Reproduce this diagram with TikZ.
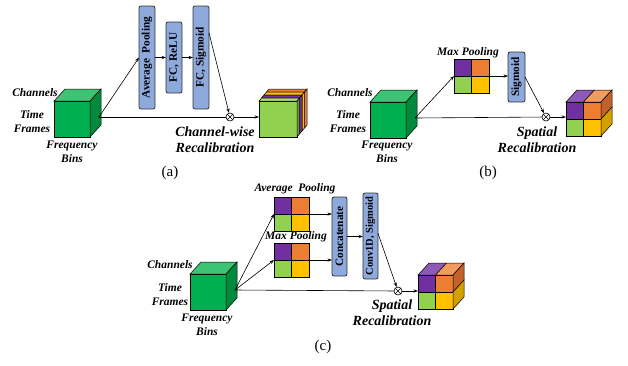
\documentclass[tikz,border=0pt]{standalone}
\usepackage{fontspec}
\usepackage{graphicx}
\setmainfont{Liberation Serif}
\usetikzlibrary{calc,arrows.meta}

\definecolor{gfront}{HTML}{00B050}
\definecolor{gtop}{HTML}{3CC374}
\definecolor{gside}{HTML}{008A3E}
\definecolor{boxblue}{HTML}{8EA9DB}
\definecolor{cpurple}{HTML}{7030A0}
\definecolor{corange}{HTML}{ED7D31}
\definecolor{clime}{HTML}{92D050}
\definecolor{cgold}{HTML}{FFC000}
\definecolor{cpurpletop}{HTML}{8E5AB6}
\definecolor{corangetop}{HTML}{F19C5E}
\definecolor{corangeside}{HTML}{C2622A}
\definecolor{cgoldside}{HTML}{D4A000}

\tikzset{
  edge/.style={line width=0.6pt},
  arr/.style={line width=0.6pt,-{Stealth[length=4.5pt,width=3.2pt]}},
  blk/.style={draw=black!80,fill=boxblue,rounded corners=2pt,line width=0.8pt,
    inner sep=0pt,outer sep=0pt,font=\fontsize{11.3}{12}\selectfont\bfseries},
  face/.style={draw,line width=0.5pt,inner sep=0pt,outer sep=0pt},
  lbl/.style={font=\fontsize{11.5}{14}\selectfont\bfseries\itshape,align=center,inner sep=0pt},
  biglbl/.style={font=\fontsize{14}{16}\selectfont\bfseries\itshape,align=center,inner sep=0pt},
  panelcap/.style={font=\fontsize{15}{16}\selectfont,inner sep=0pt},
  mult/.style={circle,draw,fill=white,minimum size=8pt,inner sep=0pt,line width=0.6pt}
}

% green input feature cube: #1 name, #2 north-west corner of the front face
\newcommand\greencube[2]{%
  \node[face,fill=gfront,minimum width=36pt,minimum height=36pt,anchor=north west] (#1) at (#2) {};
  \draw[face,fill=gtop] (#1.north west) -- ++(11,-12) -- ($(#1.north east)+(11,-12)$) -- (#1.north east) -- cycle;
  \draw[face,fill=gside] (#1.north east) -- ++(11,-12) -- ($(#1.south east)+(11,-12)$) -- (#1.south east) -- cycle;
  \coordinate (#1-out) at ($(#1.east)+(9,-2)$);
}

% 2x2 coloured map: #1 name, #2 north-west corner
\newcommand\quadgrid[2]{%
  \node[face,minimum width=35pt,minimum height=34pt,anchor=north west] (#1) at (#2) {};
  \fill[cpurple] (#1.north west) rectangle (#1.center);
  \fill[corange] (#1.north) rectangle (#1.east);
  \fill[clime] (#1.west) rectangle (#1.south);
  \fill[cgold] (#1.center) rectangle (#1.south east);
  \draw[line width=0.5pt] (#1.north west) rectangle (#1.south east)
    (#1.north) -- (#1.south) (#1.west) -- (#1.east);
}

% 2x2 recalibrated cube: #1 name, #2 north-west corner of the front face
\newcommand\quadcube[2]{%
  \quadgrid{#1}{#2}
  \draw[face,fill=cpurpletop] (#1.north west) -- ++(11,-12) -- ($(#1.north)+(11,-12)$) -- (#1.north) -- cycle;
  \draw[face,fill=corangetop] (#1.north) -- ++(11,-12) -- ($(#1.north east)+(11,-12)$) -- (#1.north east) -- cycle;
  \draw[face,fill=corangeside] (#1.north east) -- ++(11,-12) -- ($(#1.east)+(11,-12)$) -- (#1.east) -- cycle;
  \draw[face,fill=cgoldside] (#1.east) -- ++(11,-12) -- ($(#1.south east)+(11,-12)$) -- (#1.south east) -- cycle;
}

\newcommand\crossmark[1]{%
  \draw[line width=0.6pt] (#1.north west) -- (#1.south east) (#1.north east) -- (#1.south west);
}

\begin{document}
\begin{tikzpicture}[x=1pt,y=-1pt]
\useasboundingbox (0,0) rectangle (628,365);

% ---------------- (a) channel-wise recalibration ----------------
\greencube{ca}{54,101}
\node[lbl] (ca-ch) at (35,93) {Channels};
\node[lbl] (ca-tf) at (32,122) {Time\\Frames};
\node[lbl] (ca-fb) at (72,151.5) {Frequency\\Bins};

\node[blk,minimum width=16pt,minimum height=103pt] (avg) at (147,57.5) {\rotatebox{90}{Average\ \ Pooling}};
\node[blk,minimum width=16pt,minimum height=71pt] (relu) at (174,57.5) {\rotatebox{90}{FC, ReLU}};
\node[blk,minimum width=16pt,minimum height=103pt] (sig) at (201,57.5) {\rotatebox{90}{FC, Sigmoid}};

\node[mult] (ma) at (230,117) {};
\crossmark{ma}

\node[face,fill=clime,minimum width=38pt,minimum height=36pt,anchor=north west] (cw) at (259,101) {};
\foreach \k/\ct/\cs in {3/corange/corange,2/cgold/cgold,1/cpurple/cpurple,0/clime!75!white/clime!75!black}{
  \draw[face,fill=\ct] ($(cw.north west)+(\k*2.5,-\k*3)$) -- ++(2.5,-3)
    -- ($(cw.north east)+(\k*2.5+2.5,-\k*3-3)$) -- ($(cw.north east)+(\k*2.5,-\k*3)$) -- cycle;
  \draw[face,fill=\cs] ($(cw.north east)+(\k*2.5,-\k*3)$) -- ++(2.5,-3)
    -- ($(cw.south east)+(\k*2.5+2.5,-\k*3-3)$) -- ($(cw.south east)+(\k*2.5,-\k*3)$) -- cycle;
}
\node[biglbl] (cw-lbl) at (215,139.5) {Channel-wise\\Recalibration};
\node[panelcap] (capa) at (170,173) {(a)};

\draw[arr] (ca-out) -- (avg.west);
\draw[arr] (avg.east) -- (relu.west);
\draw[arr] (relu.east) -- (sig.west);
\draw[arr] ($(sig.north east)!0.26!(sig.south east)$) -- (ma);
\draw[edge] (ca-out) -- (ma);
\draw[arr] (ma) -- (ma -| cw.west);

% ---------------- (b) spatial recalibration, max pooling ----------------
\greencube{cb}{370,102}
\node[lbl] (cb-ch) at (350,93) {Channels};
\node[lbl] (cb-tf) at (348,122) {Time\\Frames};
\node[lbl] (cb-fb) at (387,151.5) {Frequency\\Bins};

\node[lbl] (mpb-lbl) at (468,53) {Max Pooling};
\quadgrid{mpb}{454,59}
\node[blk,minimum width=17pt,minimum height=50pt] (sigb) at (516.5,77) {\rotatebox{90}{Sigmoid}};

\node[mult] (mb) at (546,117) {};
\crossmark{mb}
\quadcube{ob}{566,102}
\node[biglbl] (ob-lbl) at (537,140) {Spatial\\Recalibration};
\node[panelcap] (capb) at (488,173) {(b)};

\draw[arr] (cb-out) -- (mpb.west);
\draw[arr] (mpb.east) -- (mpb.east -| sigb.west);
\draw[arr] (sigb.east) -- (mb);
\draw[edge] (cb-out) -- (mb);
\draw[arr] (mb) -- (mb -| ob.west);

% ---------------- (c) spatial recalibration, avg + max pooling ----------------
\greencube{cc}{190,274}
\node[lbl] (cc-ch) at (170,265) {Channels};
\node[lbl] (cc-tf) at (170,295) {Time\\Frames};
\node[lbl] (cc-fb) at (207,324.5) {Frequency\\Bins};

\node[lbl] (apc-lbl) at (295,189) {Average\ \ Pooling};
\quadgrid{apc}{274,197}
\node[lbl] (mpc-lbl) at (296,237) {Max Pooling};
\quadgrid{mpc}{274,243}

\node[blk,minimum width=15pt,minimum height=79pt] (cat) at (339.5,236.5) {\rotatebox{90}{Concatenate}};
\node[blk,minimum width=15pt,minimum height=86pt,font=\fontsize{10.5}{12}\selectfont\bfseries] (conv) at (370.5,236) {\rotatebox{90}{Conv1D, Sigmoid}};

\node[mult] (mc) at (398,291) {};
\crossmark{mc}
\quadcube{oc}{418,275}
\node[biglbl] (oc-lbl) at (392,312.5) {Spatial\\Recalibration};
\node[panelcap] (capc) at (323,347) {(c)};

\draw[arr] (cc-out) -- (apc.west);
\draw[arr] (cc-out) -- (mpc.west);
\draw[arr] (apc.east) -- (apc.east -| cat.west);
\draw[arr] (mpc.east) -- (mpc.east -| cat.west);
\draw[arr] (cat.east) -- (cat.east -| conv.west);
\draw[arr] ($(conv.north east)!0.47!(conv.south east)$) -- (mc);
\draw[edge] (cc-out) -- (mc);
\draw[arr] (mc) -- (mc -| oc.west);
\end{tikzpicture}
\end{document}
